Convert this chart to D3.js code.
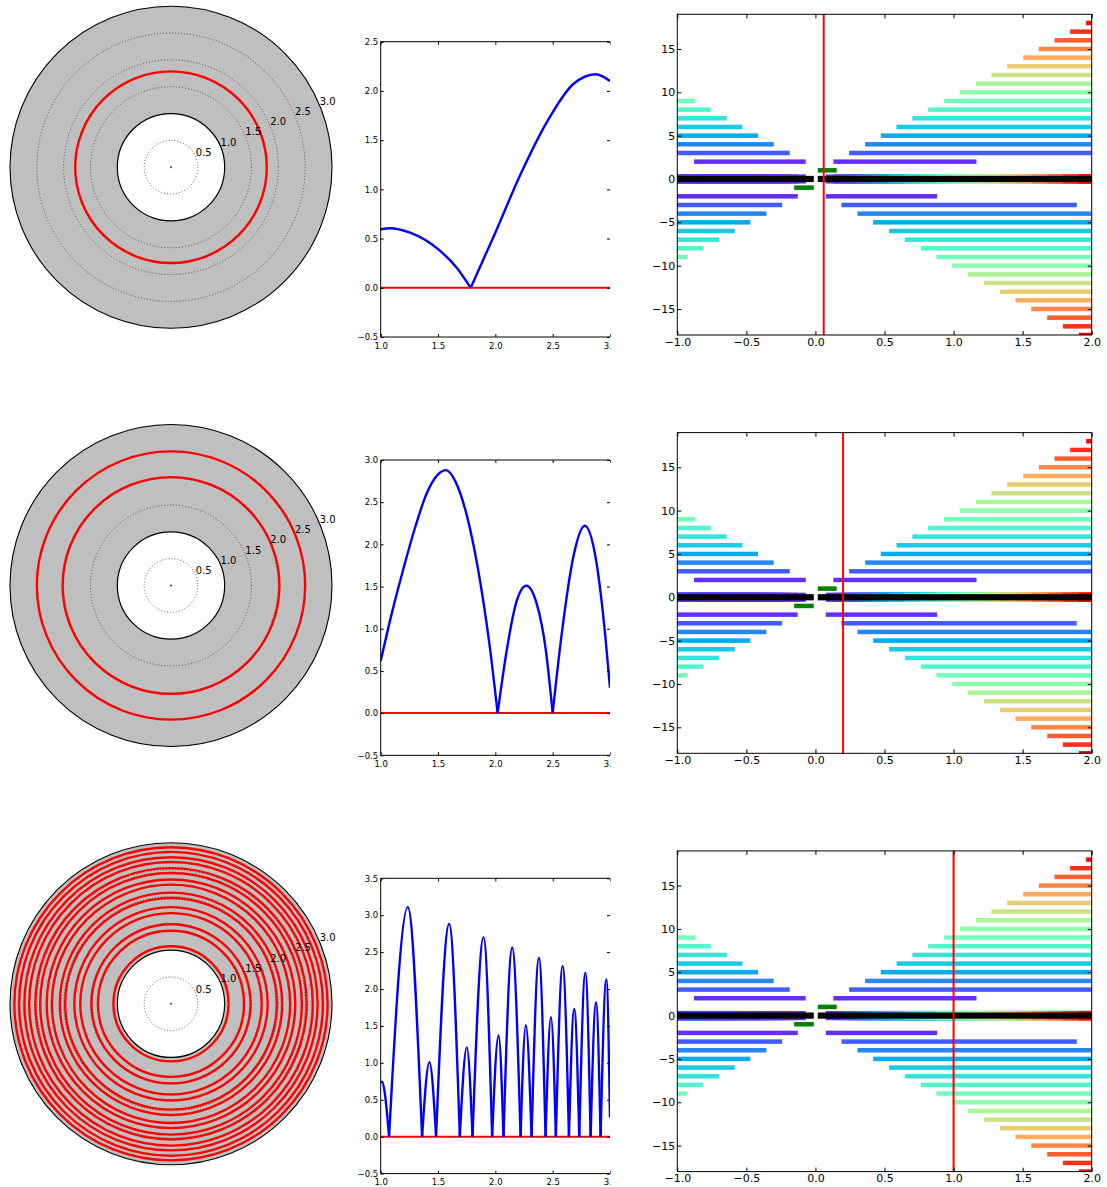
<!DOCTYPE html>
<html><head><meta charset="utf-8">
<script src="https://cdn.jsdelivr.net/npm/d3@7"></script>
<style>
body{margin:0;background:#fff}
svg{display:block}
text{font-family:"DejaVu Sans",sans-serif}
</style>
</head><body>
<svg id="c" width="1107" height="1187"></svg>
<script>
// ---------------- DATA ----------------
const polarTickValues = [0.5, 1.0, 1.5, 2.0, 2.5, 3.0];

// |field| profiles read from the middle column (x, y); y === 0 marks a zero
const curveRow1 = [[1.0,0.595],[1.08,0.605],[1.256,0.56],[1.503,0.39],[1.663,0.204],[1.785,0],
  [2.0,0.56],[2.215,1.14],[2.448,1.68],[2.68,2.07],[2.878,2.17],[3.0,2.1]];
const curveRow2 = [[1.0,0.62],[1.1,1.2],[1.2,1.72],[1.3,2.2],[1.4,2.6],[1.5,2.83],[1.57,2.88],[1.65,2.75],[1.75,2.35],[1.85,1.7],[1.95,0.8],[2.02,0],
  [2.10,0.75],[2.18,1.3],[2.27,1.51],[2.36,1.3],[2.44,0.75],[2.50,0],
  [2.58,0.95],[2.68,1.85],[2.78,2.22],[2.88,1.8],[2.96,0.9],[3.0,0.3]];
const curveRow3 = [[1.0,0.73],[1.012,0.745],[1.035,0.6],[1.055,0.32],[1.073,0],
  [1.236,3.11],[1.361,0],[1.425,1.01],[1.483,0],[1.597,2.88],[1.690,0],[1.751,1.21],[1.801,0],
  [1.897,2.70],[1.972,0],[2.028,1.37],[2.071,0],[2.147,2.56],[2.220,0],[2.266,1.51],[2.316,0],
  [2.380,2.42],[2.438,0],[2.485,1.62],[2.528,0],[2.587,2.31],[2.642,0],[2.688,1.73],[2.732,0],
  [2.785,2.22],[2.831,0],[2.878,1.82],[2.918,0],[2.968,2.13],[3.0,0.26]];
const lineYMax = [2.5, 3.0, 3.5];
const lineYTicks = [[-0.5,0.0,0.5,1.0,1.5,2.0,2.5],[-0.5,0.0,0.5,1.0,1.5,2.0,2.5,3.0],[-0.5,0.0,0.5,1.0,1.5,2.0,2.5,3.0,3.5]];
const lineXTicks = [1.0,1.5,2.0,2.5,3.0];

// band segments [order m, x start, x end] read from right column
const bandRightPos = [[2,0.130,1.166],[3,0.244,2.1],[4,0.360,2.1],[5,0.473,2.1],[6,0.587,2.1],[7,0.702,2.1],[8,0.816,2.1],[9,0.932,2.1],[10,1.045,2.1],[11,1.161,2.1],[12,1.274,2.1],[13,1.388,2.1],[14,1.504,2.1],[15,1.617,2.1],[16,1.731,2.1],[17,1.844,2.1],[18,1.960,2.1]];
const bandRightNeg = [[-2,0.075,0.881],[-3,0.188,1.892],[-4,0.304,2.1],[-5,0.418,2.1],[-6,0.533,2.1],[-7,0.647,2.1],[-8,0.763,2.1],[-9,0.876,2.1],[-10,0.990,2.1],[-11,1.105,2.1],[-12,1.219,2.1],[-13,1.335,2.1],[-14,1.448,2.1],[-15,1.562,2.1],[-16,1.678,2.1],[-17,1.791,2.1],[-18,1.907,2.1]];
const bandLeftPos = [[2,-0.879,-0.070],[3,-1.1,-0.186],[4,-1.1,-0.302],[5,-1.1,-0.415],[6,-1.1,-0.529],[7,-1.1,-0.642],[8,-1.1,-0.758],[9,-1.1,-0.871]];
const bandLeftNeg = [[-2,-1.1,-0.128],[-3,-1.1,-0.241],[-4,-1.1,-0.355],[-5,-1.1,-0.471],[-6,-1.1,-0.584],[-7,-1.1,-0.698],[-8,-1.1,-0.813],[-9,-1.1,-0.929]];
const bandFirst = [[1,0.017,0.154],[-1,-0.154,-0.012]];
const bandZero = [[0,-1.1,-0.012],[0,0.017,2.1]];
const redLineX = [0.06, 0.2, 1.0];
const barXTicks = [-1.0,-0.5,0.0,0.5,1.0,1.5,2.0];
const barYTicks = [-15,-10,-5,0,5,10,15];

// ---------------- HELPERS ----------------
function rainbow(t){
  const r = Math.min(1, Math.abs(2*t - 0.5)), g = Math.max(0, Math.sin(Math.PI*t)), b = Math.max(0, Math.cos(Math.PI*t/2));
  return d3.rgb(r*255, g*255, b*255).formatHex();
}
function bandColor(m){
  const a = Math.abs(m);
  if (a === 0) return "#000000";
  if (a === 1) return "#008000";
  return rainbow((a - 1) / 17);
}
const fmtMinus = v => d3.format(".1f")(v).replace("-", "\u2212");

const svg = d3.select("#c");
const curves = [curveRow1, curveRow2, curveRow3];
const ROW = 418.3;

for (let r = 0; r < 3; r++) {
  const dy = r * ROW;
  const curve = curves[r];
  const zeros = curve.filter(p => p[1] === 0).map(p => p[0]);

  // ===== POLAR =====
  const cx = 171, cy = 167.2 + dy, R = 161;
  const rs = d3.scaleLinear().domain([0, 3]).range([0, R]);
  const gp = svg.append("g").attr("transform", `translate(${cx},${cy})`);
  gp.append("circle").attr("r", rs(3)).attr("fill", "#bfbfbf").attr("stroke", "#000").attr("stroke-width", 1.1);
  gp.append("circle").attr("r", rs(1)).attr("fill", "#fff").attr("stroke", "#000").attr("stroke-width", 1.2);
  gp.selectAll(".grid").data(polarTickValues.filter(v => v !== 1 && v !== 3)).join("circle")
    .attr("r", d => rs(d)).attr("fill", "none").attr("stroke", "#444").attr("stroke-width", 0.9)
    .attr("stroke-dasharray", "1,2");
  gp.selectAll(".zero").data(zeros).join("circle")
    .attr("r", d => rs(d)).attr("fill", "none").attr("stroke", "#ff0000").attr("stroke-width", 2.4);
  gp.append("circle").attr("r", 1).attr("fill", "#444");
  const ang = 22.5 * Math.PI / 180;
  gp.selectAll(".lbl").data(polarTickValues).join("text")
    .attr("x", d => rs(d) * Math.cos(ang)).attr("y", d => -rs(d) * Math.sin(ang) - 1)
    .attr("font-size", 10).attr("fill", "#000").text(d => d.toFixed(1));

  // ===== LINE PLOT =====
  const L = {x0: 380.7, x1: 610, y0: 41.7 + dy, y1: 337 + dy};
  const xs = d3.scaleLinear().domain([1, 3]).range([L.x0, L.x1]);
  const ys = d3.scaleLinear().domain([-0.5, lineYMax[r]]).range([L.y1, L.y0]);
  const clipL = "clipL" + r, clipLAll = "clipLAll" + r;
  const defs = svg.append("defs");
  defs.append("clipPath").attr("id", clipL).append("rect")
    .attr("x", L.x0).attr("y", L.y0).attr("width", L.x1 - L.x0).attr("height", L.y1 - L.y0);
  defs.append("clipPath").attr("id", clipLAll).append("rect")
    .attr("x", L.x0 - 40).attr("y", L.y0 - 10).attr("width", L.x1 + 0.6 - (L.x0 - 40)).attr("height", L.y1 - L.y0 + 30);
  const gl = svg.append("g").attr("clip-path", `url(#${clipLAll})`);
  const gld = gl.append("g").attr("clip-path", `url(#${clipL})`);
  gld.append("line").attr("x1", xs(1)).attr("x2", xs(3)).attr("y1", ys(0)).attr("y2", ys(0))
    .attr("stroke", "#ff0000").attr("stroke-width", 2);
  // split into arches at zeros
  const arches = [];
  let cur = [];
  curve.forEach((p, i) => {
    cur.push(p);
    if (p[1] === 0 && i > 0 && i < curve.length - 1) { arches.push(cur); cur = [p]; }
  });
  arches.push(cur);
  const lineGen = d3.line().x(d => xs(d[0])).y(d => ys(d[1])).curve(d3.curveMonotoneX);
  gld.selectAll(".arch").data(arches).join("path")
    .attr("d", lineGen).attr("fill", "none").attr("stroke", "#0000ff").attr("stroke-width", 2.4)
    .attr("stroke-linejoin", "round");
  // axes
  const ax = (g) => { g.select(".domain").remove(); g.attr("font-family", null).attr("font-size", null); };
  gl.append("g").attr("transform", `translate(0,${L.y1})`)
    .call(d3.axisBottom(xs).tickValues(lineXTicks).tickSize(-3).tickPadding(5.5).tickFormat(d3.format(".1f"))).call(ax)
    .selectAll("text").attr("font-size", 8.5).attr("fill", "#000");
  gl.append("g").attr("transform", `translate(0,${L.y0})`)
    .call(d3.axisTop(xs).tickValues(lineXTicks).tickSize(-3).tickFormat("")).call(ax);
  gl.append("g").attr("transform", `translate(${L.x0},0)`)
    .call(d3.axisLeft(ys).tickValues(lineYTicks[r]).tickSize(-3).tickPadding(2.5).tickFormat(d3.format(".1f"))).call(ax)
    .selectAll("text").attr("font-size", 8.5).attr("fill", "#000");
  gl.append("g").attr("transform", `translate(${L.x1},0)`)
    .call(d3.axisRight(ys).tickValues(lineYTicks[r]).tickSize(-3).tickFormat("")).call(ax);
  gl.selectAll(".tick line").attr("stroke", "#000");
  gl.append("path").attr("d", `M${L.x1},${L.y0}H${L.x0}V${L.y1}H${L.x1}`)
    .attr("fill", "none").attr("stroke", "#000").attr("stroke-width", 1);

  // ===== BAR / BAND PLOT =====
  const B = {x0: 677.3, x1: 1091.7, y0: 14.3 + dy, y1: 335 + dy};
  const bx = d3.scaleLinear().domain([-1, 2]).range([B.x0, B.x1]);
  const by = d3.scaleLinear().domain([-18, 19]).range([B.y1, B.y0]);
  const clipB = "clipB" + r;
  defs.append("clipPath").attr("id", clipB).append("rect")
    .attr("x", B.x0).attr("y", B.y0).attr("width", B.x1 - B.x0).attr("height", B.y1 - B.y0);
  const gb = svg.append("g");
  const gbd = gb.append("g").attr("clip-path", `url(#${clipB})`);
  // projection of bands on the m = 0 line
  const leftAll = bandLeftPos.concat(bandLeftNeg).sort((a, b) => Math.abs(b[0]) - Math.abs(a[0]));
  const rightAll = bandRightNeg.concat(bandRightPos).sort((a, b) => Math.abs(a[0]) - Math.abs(b[0]));
  const under = leftAll.concat(rightAll);
  gbd.selectAll(".under").data(under).join("rect")
    .attr("x", d => bx(d[1])).attr("width", d => bx(d[2]) - bx(d[1]))
    .attr("y", by(0) - 4.6).attr("height", 9.2).attr("fill", d => bandColor(d[0]));
  gbd.selectAll(".zero").data(bandZero).join("rect")
    .attr("x", d => bx(d[1])).attr("width", d => bx(d[2]) - bx(d[1]))
    .attr("y", by(0) - 3.1).attr("height", 6.2).attr("fill", "#000");
  const bands = bandRightPos.concat(bandRightNeg, bandLeftPos, bandLeftNeg, bandFirst);
  gbd.selectAll(".band").data(bands).join("rect")
    .attr("x", d => bx(d[1])).attr("width", d => bx(d[2]) - bx(d[1]))
    .attr("y", d => by(d[0]) - 2.25).attr("height", 4.5).attr("fill", d => bandColor(d[0]));
  gbd.append("line").attr("x1", bx(redLineX[r])).attr("x2", bx(redLineX[r]))
    .attr("y1", B.y0).attr("y2", B.y1).attr("stroke", "#ff0000").attr("stroke-width", 2);
  // axes
  gb.append("g").attr("transform", `translate(0,${B.y1})`)
    .call(d3.axisBottom(bx).tickValues(barXTicks).tickSize(-4).tickPadding(3).tickFormat(fmtMinus)).call(ax)
    .selectAll("text").attr("font-size", 11).attr("fill", "#000");
  gb.append("g").attr("transform", `translate(0,${B.y0})`)
    .call(d3.axisTop(bx).tickValues(barXTicks).tickSize(-4).tickFormat("")).call(ax);
  gb.append("g").attr("transform", `translate(${B.x0},0)`)
    .call(d3.axisLeft(by).tickValues(barYTicks).tickSize(-4).tickPadding(2).tickFormat(d => String(d).replace("-", "\u2212"))).call(ax)
    .selectAll("text").attr("font-size", 11).attr("fill", "#000");
  gb.append("g").attr("transform", `translate(${B.x1},0)`)
    .call(d3.axisRight(by).tickValues(barYTicks).tickSize(-4).tickFormat("")).call(ax);
  gb.selectAll(".tick line").attr("stroke", "#000");
  gb.append("rect").attr("x", B.x0).attr("y", B.y0).attr("width", B.x1 - B.x0).attr("height", B.y1 - B.y0)
    .attr("fill", "none").attr("stroke", "#000").attr("stroke-width", 1);
}
</script>
</body></html>
